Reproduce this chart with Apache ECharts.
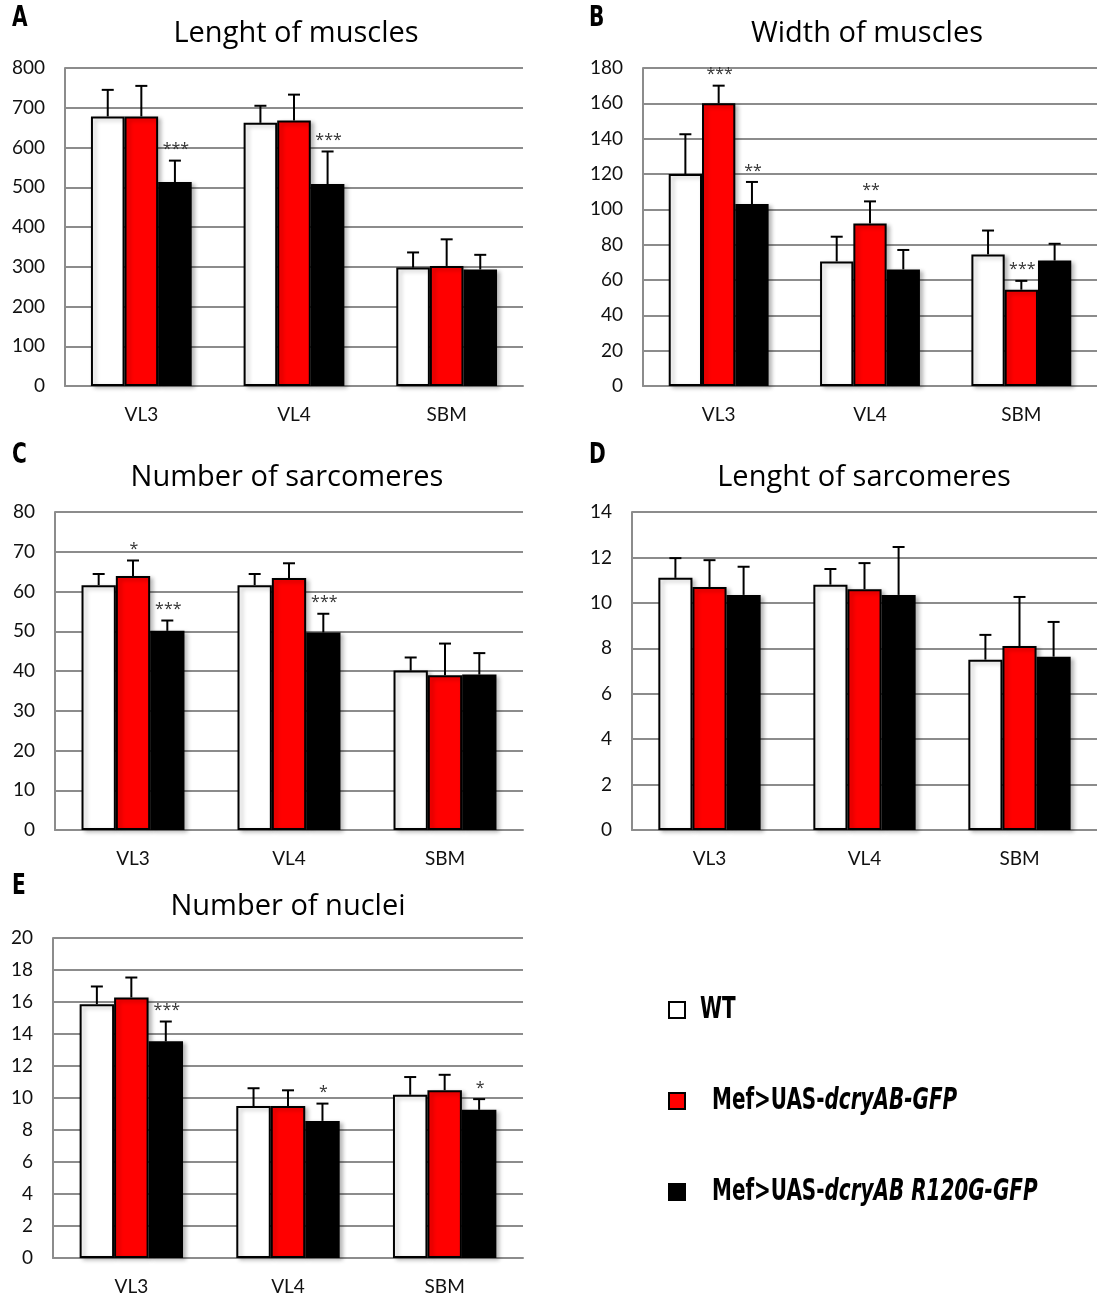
<!DOCTYPE html>
<html>
<head>
<meta charset="utf-8">
<title>Muscle measurements</title>
<script src="https://cdn.jsdelivr.net/npm/echarts@6/dist/echarts.min.js"></script>
<style>
  html, body { margin: 0; padding: 0; background: #fff; }
  #chart { width: 1097px; height: 1300px; }
</style>
</head>
<body>
<div id="chart"></div>
<script>
// Muscle categories and genotypes
const categories = ['VL3', 'VL4', 'SBM'];
const groupNames = ['WT', 'Mef>UAS-dcryAB-GFP', 'Mef>UAS-dcryAB R120G-GFP'];

// A: length of muscles (mean and SD)
const muscleLenWT = [678, 662, 298];
const muscleLenWTSd = [67, 43, 38];
const muscleLenOE = [678, 668, 302];
const muscleLenOESd = [77, 65, 67];
const muscleLenMut = [513, 508, 293];
const muscleLenMutSd = [54, 82, 37];
const muscleLenOEStars = ['', '', ''];
const muscleLenMutStars = ['***', '***', ''];

// B: width of muscles
const muscleWidWT = [120, 70.5, 74.5];
const muscleWidWTSd = [22.5, 14, 13.5];
const muscleWidOE = [160, 92, 54.5];
const muscleWidOESd = [10, 12.5, 5];
const muscleWidMut = [103, 66, 71];
const muscleWidMutSd = [12.5, 11, 9.5];
const muscleWidOEStars = ['***', '**', '***'];
const muscleWidMutStars = ['**', '', ''];

// C: number of sarcomeres
const sarcNumWT = [61.6, 61.6, 40.1];
const sarcNumWTSd = [2.8, 2.8, 3.3];
const sarcNumOE = [63.9, 63.4, 38.9];
const sarcNumOESd = [3.9, 3.7, 8.0];
const sarcNumMut = [50.1, 49.7, 39.1];
const sarcNumMutSd = [2.6, 4.7, 5.4];
const sarcNumOEStars = ['*', '', ''];
const sarcNumMutStars = ['***', '***', ''];

// D: length of sarcomeres
const sarcLenWT = [11.1, 10.8, 7.5];
const sarcLenWTSd = [0.87, 0.69, 1.09];
const sarcLenOE = [10.7, 10.6, 8.1];
const sarcLenOESd = [1.18, 1.15, 2.16];
const sarcLenMut = [10.35, 10.35, 7.63];
const sarcLenMutSd = [1.24, 2.11, 1.53];
const sarcLenOEStars = ['', '', ''];
const sarcLenMutStars = ['', '', ''];

// E: number of nuclei
const nucleiWT = [15.86, 9.5, 10.2];
const nucleiWTSd = [1.11, 1.11, 1.11];
const nucleiOE = [16.28, 9.5, 10.49];
const nucleiOESd = [1.25, 0.98, 0.96];
const nucleiMut = [13.54, 8.57, 9.26];
const nucleiMutSd = [1.24, 1.08, 0.67];
const nucleiOEStars = ['', '', ''];
const nucleiMutStars = ['***', '*', '*'];

const noStars = ['', '', ''];

const panels = [
  { letter: 'A', title: 'Lenght of muscles', max: 800, interval: 100,
    grid: { left: 65, top: 68, width: 458, height: 318 }, titleX: 296, titleY: 33, letterX: 12, letterY: 19,
    means: [muscleLenWT, muscleLenOE, muscleLenMut], sds: [muscleLenWTSd, muscleLenOESd, muscleLenMutSd],
    stars: [noStars, muscleLenOEStars, muscleLenMutStars] },
  { letter: 'B', title: 'Width of muscles', max: 180, interval: 20,
    grid: { left: 643, top: 68, width: 454, height: 318 }, titleX: 867, titleY: 33, letterX: 589, letterY: 19,
    means: [muscleWidWT, muscleWidOE, muscleWidMut], sds: [muscleWidWTSd, muscleWidOESd, muscleWidMutSd],
    stars: [noStars, muscleWidOEStars, muscleWidMutStars] },
  { letter: 'C', title: 'Number of sarcomeres', max: 80, interval: 10,
    grid: { left: 55, top: 512, width: 468, height: 318 }, titleX: 287, titleY: 477, letterX: 12, letterY: 456,
    means: [sarcNumWT, sarcNumOE, sarcNumMut], sds: [sarcNumWTSd, sarcNumOESd, sarcNumMutSd],
    stars: [noStars, sarcNumOEStars, sarcNumMutStars] },
  { letter: 'D', title: 'Lenght of sarcomeres', max: 14, interval: 2,
    grid: { left: 632, top: 512, width: 465, height: 318 }, titleX: 864, titleY: 477, letterX: 589, letterY: 456,
    means: [sarcLenWT, sarcLenOE, sarcLenMut], sds: [sarcLenWTSd, sarcLenOESd, sarcLenMutSd],
    stars: [noStars, sarcLenOEStars, sarcLenMutStars] },
  { letter: 'E', title: 'Number of nuclei', max: 20, interval: 2,
    grid: { left: 53, top: 938, width: 470, height: 320 }, titleX: 288, titleY: 906, letterX: 12, letterY: 887,
    means: [nucleiWT, nucleiOE, nucleiMut], sds: [nucleiWTSd, nucleiOESd, nucleiMutSd],
    stars: [noStars, nucleiOEStars, nucleiMutStars] }
];

const barFill = ['#ffffff', '#ff0000', '#000000'];
const gapRatio = 0.34;
const gridGray = '#8c8c8c';
const labelFont = 'Lato, "Open Sans", sans-serif';
const titleFont = '"Open Sans", Lato, sans-serif';
const boldFont = '"DejaVu Sans Condensed", "DejaVu Sans", sans-serif';

const grids = [], xAxes = [], yAxes = [], series = [], graphics = [];

panels.forEach((p, pi) => {
  grids.push(Object.assign({ outerBoundsMode: 'none', containLabel: false }, p.grid));
  xAxes.push({
    type: 'category', gridIndex: pi, data: categories,
    axisLine: { show: true, lineStyle: { color: gridGray, width: 2 } },
    axisTick: { show: false },
    axisLabel: { fontFamily: labelFont, fontSize: 19, color: '#111', margin: 19 }
  });
  yAxes.push({
    type: 'value', gridIndex: pi, min: 0, max: p.max, interval: p.interval,
    axisLine: { show: true, lineStyle: { color: gridGray, width: 2 } },
    axisTick: { show: false },
    splitLine: { show: true, lineStyle: { color: gridGray, width: 2 } },
    axisLabel: { fontFamily: labelFont, fontSize: 19, color: '#111', margin: 20 }
  });

  // bars
  for (let k = 0; k < 3; k++) {
    series.push({
      type: 'bar', name: groupNames[k], xAxisIndex: pi, yAxisIndex: pi,
      data: p.means[k],
      barGap: '0%', barCategoryGap: (gapRatio * 100) + '%',
      itemStyle: {
        color: barFill[k], borderColor: '#000', borderWidth: 2,
        shadowColor: 'rgba(0,0,0,0.25)', shadowBlur: 4, shadowOffsetX: 3, shadowOffsetY: 2
      },
      z: 2
    });
  }

  // error bars (upper only) with significance marks
  for (let k = 0; k < 3; k++) {
    const means = p.means[k], sds = p.sds[k], stars = p.stars[k];
    series.push({
      type: 'custom', xAxisIndex: pi, yAxisIndex: pi, z: 5, silent: true,
      data: means.map((m, i) => [i, m, m + sds[i]]),
      encode: { x: 0, y: [1, 2] },
      renderItem: (params, api) => {
        const ci = api.value(0);
        const band = api.size([1, 0])[0];
        const bw = band * (1 - gapRatio) / 3;
        const x = api.coord([ci, 0])[0] + (k - 1) * bw;
        const y0 = api.coord([ci, api.value(1)])[1];
        const y1 = api.coord([ci, api.value(2)])[1];
        const lineStyle = { stroke: '#000', lineWidth: 2 };
        const children = [
          { type: 'line', shape: { x1: x, y1: y0, x2: x, y2: y1 }, style: lineStyle },
          { type: 'line', shape: { x1: x - 6, y1: y1, x2: x + 6, y2: y1 }, style: lineStyle }
        ];
        const s = stars[params.dataIndex];
        if (s) {
          children.push({
            type: 'text', x: x + 1, y: y1 - 3,
            style: { text: s, font: '16px ' + titleFont, align: 'center', verticalAlign: 'bottom', fill: '#333' }
          });
        }
        return { type: 'group', children: children };
      }
    });
  }

  graphics.push({
    type: 'text', x: p.titleX, y: p.titleY + 1,
    style: { text: p.title, font: '29px ' + titleFont, align: 'center', verticalAlign: 'middle', fill: '#000' }
  });
  graphics.push({
    type: 'text', x: p.letterX, y: p.letterY, scaleX: 0.8,
    style: { text: p.letter, font: 'bold 28px ' + boldFont, align: 'left', verticalAlign: 'middle', fill: '#000' }
  });
});

// legend: square swatches with condensed bold labels (genotype part in italics)
const legendRich = {
  b: { fontFamily: boldFont, fontWeight: 'bold', fontSize: 30, fill: '#000' },
  i: { fontFamily: boldFont, fontWeight: 'bold', fontStyle: 'italic', fontSize: 30, fill: '#000' }
};
function legendLabel(name) {
  if (name === 'WT') return '{b|WT}';
  return '{b|Mef>UAS-}{i|' + name.replace('Mef>UAS-', '') + '}';
}
const legendY = [1010, 1101, 1192];
const legendTextX = [700, 712, 712];
groupNames.forEach((n, k) => {
  graphics.push({
    type: 'rect', shape: { x: 669, y: legendY[k] - 8, width: 16, height: 16 },
    style: { fill: barFill[k], stroke: '#000', lineWidth: 2 }
  });
  graphics.push({
    type: 'text', x: legendTextX[k], y: legendY[k], scaleX: 0.74,
    style: { text: legendLabel(n), rich: legendRich, verticalAlign: 'middle', align: 'left' }
  });
});

const chart = echarts.init(document.getElementById('chart'), null, { renderer: 'canvas' });
chart.setOption({
  animation: false,
  backgroundColor: '#fff',
  grid: grids,
  xAxis: xAxes,
  yAxis: yAxes,
  series: series,
  graphic: graphics
});
</script>
</body>
</html>
